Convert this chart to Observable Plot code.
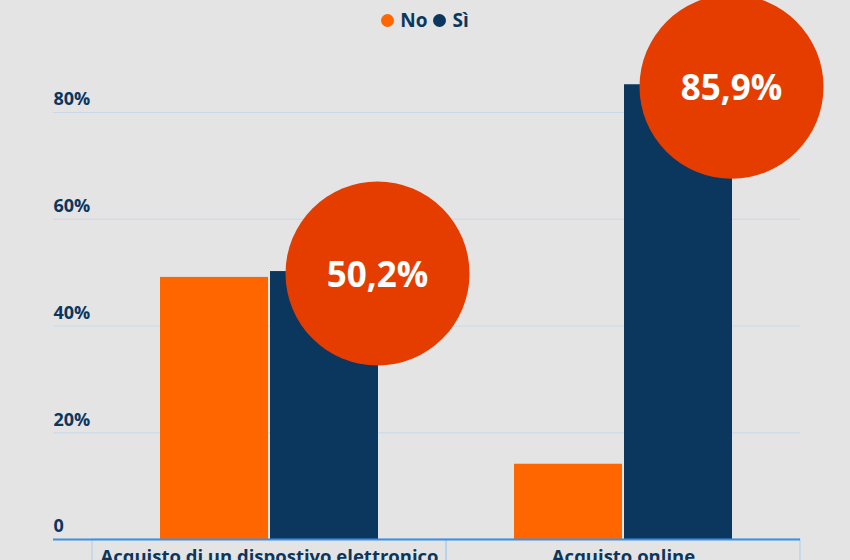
<!DOCTYPE html>
<html>
<head>
<meta charset="utf-8">
<script src="https://cdn.jsdelivr.net/npm/d3@7"></script>
<script src="https://cdn.jsdelivr.net/npm/@observablehq/plot@0.6"></script>
<style>
  html, body { margin: 0; padding: 0; background: #e4e4e4; width: 850px; height: 560px; overflow: hidden; }
  #legend { height: 40px; display: flex; justify-content: center; align-items: center; gap: 6px;
            font-family: "Open Sans", sans-serif; font-weight: 700; font-size: 19px; color: #0b365e; }
  #legend .item { display: flex; align-items: center; gap: 6px; }
  #legend .sw { width: 13px; height: 13px; border-radius: 50%; display: inline-block; }
  #chart svg { overflow: visible; display: block; }
</style>
</head>
<body>
<div id="legend"></div>
<div id="chart"></div>
<script>
const categories = ["Acquisto di un dispostivo elettronico", "Acquisto online"];
const seriesNames = ["No", "Sì"];
const seriesColors = ["#ff6600", "#0b365e"];
const noValues = [49.1, 14.1];
const siValues = [50.2, 85.2];
const bubbleLabels = ["50,2%", "85,9%"];
const yTicks = [0, 20, 40, 60, 80];
const yTickLabels = ["0", "20%", "40%", "60%", "80%"];

const data = categories.map((c, i) => ({cat: c, no: noValues[i], si: siValues[i], label: bubbleLabels[i]}));

// legend
const legend = document.getElementById("legend");
seriesNames.forEach((n, i) => {
  const it = document.createElement("span");
  it.className = "item";
  const sw = document.createElement("span");
  sw.className = "sw";
  sw.style.background = seriesColors[i];
  const t = document.createElement("span");
  t.textContent = n;
  it.appendChild(sw); it.appendChild(t);
  legend.appendChild(it);
});

const navy = "#0b365e";
const chart = Plot.plot({
  width: 850,
  height: 520,
  marginLeft: 53,
  marginRight: 50,
  marginTop: 72,
  marginBottom: 21,
  style: {background: "transparent", fontFamily: "Open Sans, sans-serif", overflow: "visible"},
  x: {type: "band", domain: categories, paddingInner: 0.384, paddingOuter: 0.247, align: 0.61, axis: null},
  y: {domain: [0, 80], axis: null},
  marks: [
    Plot.ruleY(yTicks.slice(1), {stroke: "#c8d8e8", strokeWidth: 1}),
    Plot.barY(data, {x: "cat", y1: 0, y2: -12, fill: "none", stroke: "#a9cdf0", strokeWidth: 1, insetLeft: -68, insetRight: -68}),
    Plot.barY(data, {x: "cat", y: "no", fill: seriesColors[0], insetRight: 110}),
    Plot.barY(data, {x: "cat", y: "si", fill: seriesColors[1], insetLeft: 110}),
    Plot.ruleY([0], {stroke: "#3d8fe3", strokeWidth: 2}),
    Plot.text(data, {x: "cat", frameAnchor: "bottom", text: "cat", dy: 23, fill: navy, fontSize: 18.5, fontWeight: 700, textAnchor: "middle"}),
    Plot.dot(data, {x: "cat", y: "si", r: 92, fill: "#e53d00", stroke: null, dx: 108, dy: 2}),
    Plot.text(data, {x: "cat", y: "si", text: "label", dx: 108, dy: 4, fill: "white", fontSize: 35, fontWeight: 700}),
    Plot.text(yTicks, {y: d => d, text: (d, i) => yTickLabels[i], frameAnchor: "left", textAnchor: "start", dy: -13, fill: navy, fontSize: 18, fontWeight: 700})
  ]
});
document.getElementById("chart").appendChild(chart);
</script>
</body>
</html>
